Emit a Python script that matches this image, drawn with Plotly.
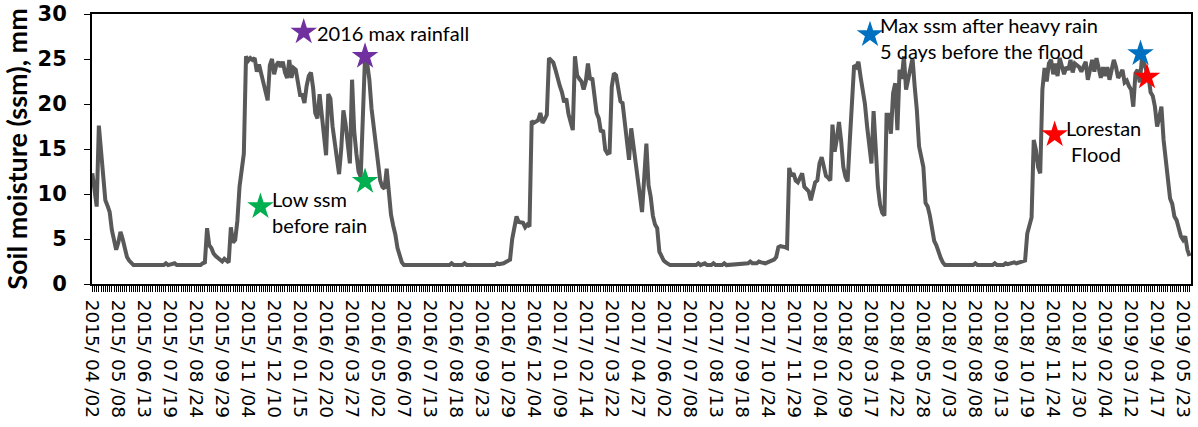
import pandas as pd
import plotly.graph_objects as go

START = pd.Timestamp("2015-04-02")
STEP_DAYS = 3  # one soil-moisture observation every 3 days

# observation number (3-day step from 2015/04/02) and soil moisture (mm)
obs = [0, 1, 2, 3, 4, 5, 6, 7, 8, 9, 10, 11, 12, 13, 14, 15, 16, 17, 18, 19,
       33, 34, 35, 37, 38, 39, 50, 51, 52, 53, 54, 55, 56, 57, 58, 59, 60, 61,
       62, 63, 64, 65, 66, 67, 68, 69, 70, 71, 72,
       73, 74, 75, 76, 77, 78, 79, 80, 81, 82, 83, 84, 85, 86, 87, 88, 89, 90,
       91, 92, 93, 94, 95, 96, 97, 98, 99, 100, 101, 102, 103, 104, 105, 106,
       107, 108, 109, 110, 111, 112, 113, 114, 115, 116, 117, 118, 119, 120,
       121, 122, 123, 124, 125, 126, 127, 128, 129, 130, 131, 132, 133, 134,
       135, 136, 137, 138, 139, 140, 141, 142, 143, 144,
       145, 165, 166, 167, 171, 172, 173, 186, 187, 188, 190, 191, 192, 193,
       194, 195, 196, 197, 198, 199, 200, 201, 202, 203, 204, 205, 206, 207,
       208, 209, 210, 211, 212, 213, 214, 215, 216, 217, 218, 219, 220, 221,
       222, 223, 224, 225, 226, 227, 228, 229, 230, 231, 232, 233, 234, 235,
       236, 237, 238, 239, 240, 241, 242, 243, 244, 245, 246, 247, 248, 249,
       250, 251, 252, 253, 254, 256, 257, 258, 259, 260, 261, 262, 263, 264,
       265, 266, 267,
       279, 280, 281, 283, 284, 286, 287, 288, 291, 292, 293, 298, 302, 303,
       304, 305, 307, 308, 309, 311, 312, 313, 314, 315, 316, 317, 318, 319,
       320, 321,
       322, 323, 324, 325, 326, 327, 328, 329, 330, 331, 332, 333, 334, 335,
       336, 337, 338, 339, 340, 341, 342, 343, 344, 345, 346, 347, 348, 349,
       350, 351, 352, 353, 354, 355, 356, 357, 358, 359, 360,
       361, 362, 363, 364, 365, 366, 367, 368, 369, 370, 371, 372, 373, 374,
       375, 376, 377, 378, 379, 380, 381, 382, 383, 384, 385, 386, 387, 388,
       389, 390, 391, 392, 393, 394, 407, 408, 409, 416, 417, 418, 421, 422,
       423, 425, 426, 427, 428, 429, 430, 431,
       432, 433, 434, 435, 436, 437, 438, 439, 440, 441, 442, 443, 444, 445,
       446, 447, 448, 449, 450, 451, 452, 453, 454, 455, 456, 457, 458, 459,
       460, 461, 462, 463, 464, 465, 466, 467, 468, 469, 470, 471, 472, 473,
       474, 475, 476, 477, 478, 479, 480, 481, 482, 483, 484, 485, 486, 487,
       488, 489, 490, 491, 492, 493, 494, 495, 496, 497, 498, 499, 500, 501,
       502, 503, 504, 505, 506, 507]

ssm = [12.3, 10.8, 8.6, 17.6, 15.0, 11.5, 9.3, 8.7, 8.0, 6.0, 5.0, 3.8, 4.6, 5.8, 5.0, 3.9, 3.0, 2.6, 2.3, 2.1,
       2.1, 2.3, 2.1, 2.3, 2.3, 2.1, 2.1, 2.3, 2.4, 6.2, 4.3, 4.0, 3.4, 3.1, 2.9, 2.6, 2.5, 2.8,
       2.6, 2.4, 6.3, 4.6, 4.9, 7.0, 10.8, 13.0, 14.5, 25.3, 24.8,
       25.1, 24.9, 25.1, 23.6, 24.4, 23.3, 22.4, 21.5, 20.4, 24.3, 25.0, 23.3, 24.3, 24.7, 24.1, 24.7, 23.5, 22.9,
       24.9, 22.9, 24.0, 23.8, 22.3, 21.0, 21.0, 20.1, 22.0, 23.1, 23.5, 21.8, 19.0, 18.4, 21.1, 19.0,
       16.4, 14.3, 21.1, 20.6, 17.5, 15.5, 13.5, 12.2, 15.0, 19.3, 17.8, 15.0, 13.4, 22.7,
       17.0, 14.5, 12.5, 11.9, 18.5, 25.3, 24.5, 22.7, 19.5, 17.5, 16.0, 13.7, 11.5, 10.8,
       10.6, 12.8, 10.1, 7.7, 6.5, 5.5, 4.0, 3.0, 2.4, 2.1,
       2.1, 2.1, 2.3, 2.1, 2.1, 2.3, 2.1, 2.1, 2.3, 2.2, 2.3, 2.4, 2.5, 2.7,
       5.0, 6.5, 7.5, 6.9, 6.8, 6.8, 6.3, 6.6, 6.4, 18.1, 17.9, 18.0, 18.2, 19.0,
       17.9, 18.3, 18.8, 25.1, 24.9, 24.6, 23.8, 22.7, 22.0, 21.3, 20.2, 20.6, 18.9, 18.0,
       17.1, 25.3, 23.2, 22.8, 22.5, 21.6, 22.5, 24.5, 22.7, 22.9, 20.6, 19.0, 18.4, 16.9,
       17.1, 14.9, 14.5, 14.6, 21.9, 23.4, 23.2, 22.0, 20.3, 20.1, 18.0, 16.0, 13.8, 17.3,
       15.5, 14.0, 11.6, 9.8, 8.0, 15.6, 11.0, 9.7, 7.6, 6.6, 6.2, 3.6, 3.0, 2.6,
       2.4, 2.2, 2.1,
       2.1, 2.3, 2.1, 2.3, 2.1, 2.1, 2.3, 2.1, 2.1, 2.3, 2.1, 2.2, 2.2, 2.3,
       2.5, 2.3, 2.3, 2.5, 2.4, 2.3, 2.4, 2.5, 2.6, 2.7, 3.0, 4.1, 4.2, 4.2,
       4.1, 4.0,
       12.9, 12.0, 12.3, 11.5, 11.3, 11.8, 12.3, 10.8, 10.5, 10.3, 9.3, 10.5, 11.3, 11.5,
       13.4, 14.1, 13.0, 12.0, 11.8, 11.5, 17.7, 14.7, 16.1, 18.0, 15.9, 13.0, 11.9, 11.4,
       15.9, 20.0, 24.3, 24.1, 24.7, 23.0, 21.5, 20.0, 17.5, 15.5, 13.4,
       19.2, 14.2, 10.8, 8.8, 7.9, 7.6, 18.8, 18.8, 16.7, 21.2, 22.3, 17.1, 23.8, 22.8,
       25.3, 21.6, 22.8, 23.5, 25.1, 21.9, 19.3, 15.3, 14.0, 13.0, 9.0, 8.6, 7.6, 5.8,
       4.8, 4.3, 3.5, 2.9, 2.4, 2.1, 2.1, 2.3, 2.1, 2.1, 2.3, 2.1, 2.1, 2.3,
       2.2, 2.3, 2.4, 2.3, 2.4, 2.4, 2.5, 2.6,
       5.6, 6.5, 7.4, 16.0, 14.9, 13.0, 12.3, 21.6, 24.0, 22.5, 24.5, 24.9, 23.3, 24.5,
       23.1, 25.1, 24.0, 23.3, 24.1, 23.8, 24.9, 23.5, 24.5, 24.3, 24.1, 23.6, 24.2, 24.7,
       22.7, 24.0, 24.9, 23.6, 25.1, 24.0, 22.9, 24.1, 23.1, 24.1, 22.7, 23.8, 24.9, 24.1,
       22.9, 23.3, 23.8, 22.4, 22.6, 22.0, 21.6, 19.7, 23.4, 23.8, 22.4, 25.1, 24.4, 23.8,
       23.1, 21.3, 20.9, 19.7, 17.5, 18.5, 19.7, 16.0, 13.5, 11.1, 9.5, 8.9, 7.5, 7.1,
       6.0, 5.3, 4.9, 5.3, 3.8, 3.1]

assert len(obs) == len(ssm)

tick_labels = ["2015/ 04 /02", "2015/ 05 /08", "2015/ 06 /13", "2015/ 07 /19", "2015/ 08 /24",
               "2015/ 09 /29", "2015/ 11 /04", "2015/ 12 /10", "2016/ 01 /15", "2016/ 02 /20",
               "2016/ 03 /27", "2016/ 05 /02", "2016/ 06 /07", "2016/ 07 /13", "2016/ 08 /18",
               "2016/ 09 /23", "2016/ 10 /29", "2016/ 12 /04", "2017/ 01 /09", "2017/ 02 /14",
               "2017/ 03 /22", "2017/ 04 /27", "2017/ 06 /02", "2017/ 07 /08", "2017/ 08 /13",
               "2017/ 09 /18", "2017/ 10 /24", "2017/ 11 /29", "2018/ 01 /04", "2018/ 02 /09",
               "2018/ 03 /17", "2018/ 04 /22", "2018/ 05 /28", "2018/ 07 /03", "2018/ 08 /08",
               "2018/ 09 /13", "2018/ 10 /19", "2018/ 11 /24", "2018/ 12 /30", "2019/ 02 /04",
               "2019/ 03 /12", "2019/ 04 /17", "2019/ 05 /23"]
tick_vals = [pd.Timestamp(t.replace(" ", "").replace("/", "-")) for t in tick_labels]

# highlighted events (star markers)
star_dates = ["2016-01-20", "2016-04-14", "2015-11-21", "2016-04-14",
              "2018-03-15", "2019-03-25", "2018-11-26", "2019-04-03"]
star_values = [28.0, 25.3, 8.6, 11.4, 27.7, 25.6, 16.6, 23.0]
star_colors = ["#7030A0", "#7030A0", "#00B050", "#00B050",
               "#0070C0", "#0070C0", "#FF0000", "#FF0000"]

# text labels
label_texts = ["2016 max rainfall", "Low ssm<br>before rain",
               "Max ssm after heavy rain<br>5 days before the flood",
               "Lorestan<br>\u00a0Flood"]
label_dates = ["2016-02-04", "2015-12-04", "2018-03-26", "2018-12-09"]
label_values = [27.9, 8.0, 27.3, 15.9]

dates = [START + pd.Timedelta(days=STEP_DAYS * o) for o in obs]

fig = go.Figure()
fig.add_trace(go.Scatter(x=dates, y=ssm, mode="lines",
                         line=dict(color="#595959", width=4),
                         showlegend=False, hoverinfo="x+y"))
fig.add_trace(go.Scatter(x=pd.to_datetime(star_dates), y=star_values, mode="markers",
                         marker=dict(symbol="star", size=20, color=star_colors,
                                     line=dict(width=0)),
                         showlegend=False))

for t, d, v in zip(label_texts, label_dates, label_values):
    fig.add_annotation(x=pd.Timestamp(d), y=v, text=t, showarrow=False,
                       xanchor="left", yanchor="middle", align="left",
                       font=dict(family="Lato", size=20, color="black"))

fig.update_layout(
    width=1198, height=427,
    margin=dict(l=92, r=7, t=14, b=143),
    plot_bgcolor="white", paper_bgcolor="white",
    showlegend=False,
)
fig.update_xaxes(
    type="date", automargin=False,
    range=[pd.Timestamp("2015-04-01 12:00"), pd.Timestamp("2019-06-03")],
    tickmode="array", tickvals=tick_vals, ticktext=tick_labels,
    tickangle=90,
    tickfont=dict(family="DejaVu Sans", size=18.5, color="black"),
    ticklabelstandoff=4,
    ticks="outside", ticklen=6, tickwidth=1, tickcolor="black",
    showline=True, linecolor="black", linewidth=2, mirror=True,
    showgrid=False, zeroline=False,
    minor=dict(tickmode="linear", tick0=START, dtick=STEP_DAYS * 86400000,
               ticks="outside", ticklen=6, tickwidth=1, tickcolor="black",
               showgrid=False),
)
fig.update_yaxes(
    range=[0, 30], tickmode="linear", tick0=0, dtick=5, automargin=False,
    tickfont=dict(family="DejaVu Sans", size=21, color="black", weight="bold"),
    ticks="outside", ticklen=6, tickwidth=1, tickcolor="black",
    ticklabelstandoff=13,
    showline=True, linecolor="black", linewidth=2, mirror=True,
    showgrid=False, zeroline=False,
    title=dict(text="Soil moisture (ssm), mm", standoff=7,
               font=dict(family="Lato", size=27, color="black", weight="bold")),
)

fig.write_html("out.html",
               config={"displayModeBar": False},
               post_script="document.body.style.margin='0';document.body.style.padding='0';")
